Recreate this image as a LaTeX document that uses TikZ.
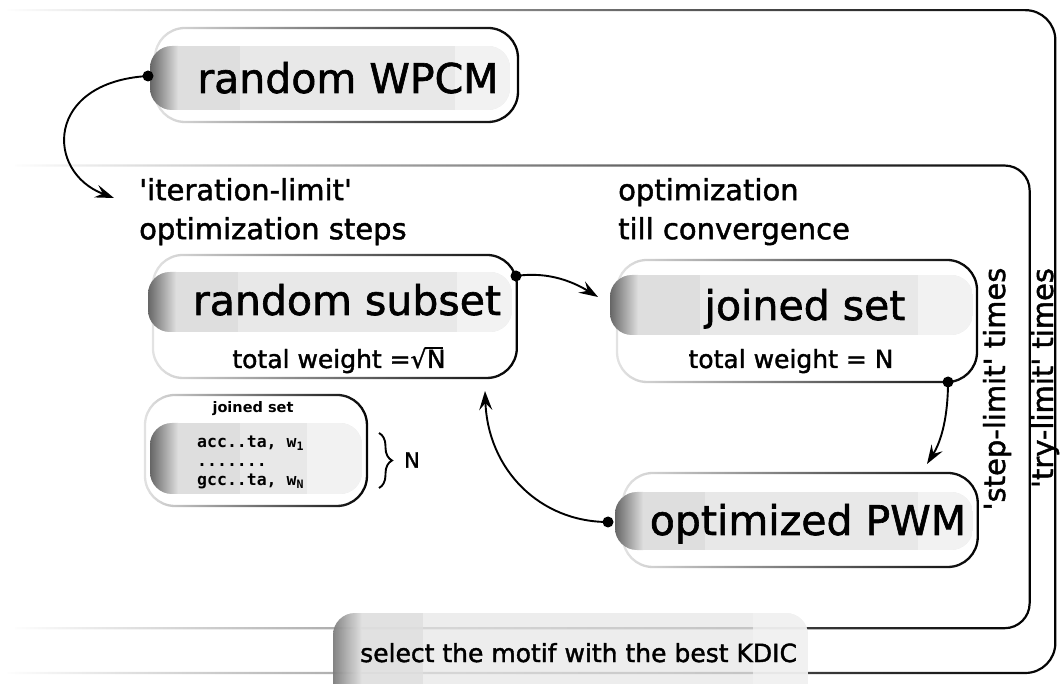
\documentclass[tikz,border=0pt]{standalone}
\usepackage{fontspec}
\setmainfont{DejaVu Sans}[FakeBold=1.5, Ligatures=TeXOff]
\newfontfamily\monofnt{DejaVu Sans Mono}
\newfontfamily\lblfnt{DejaVu Sans}
\usetikzlibrary{arrows.meta,fadings,decorations.pathreplacing}
\tikzfading[name=boxfade, left color=transparent!90, right color=transparent!0]
\tikzfading[name=framefade, left color=transparent!100, middle color=transparent!40, right color=transparent!0]
\newcommand{\mmbar}[4]{%
  \begin{scope}
    \clip[rounded corners=22pt] (#1,#2) rectangle (#3,#4);
    \fill[black!9] (#1,#2) rectangle (#3,#4);
    \fill[black!13] ({#1+20},#2) rectangle ({#1+90},#4);
    \shade[left color=black!60, right color=black!13] (#1,#2) rectangle ({#1+28},#4);
    \fill[black!5] ({#3-55},#2) rectangle (#3,#4);
  \end{scope}}
\newcommand{\mmbox}[4]{%
  \draw[boxline] ({#1-3},{#2-3}) ({#3+3},{#4+3}) (#1,#2) rectangle (#3,#4);}
\newcommand{\radN}{√\kern-1.2pt\rlap{\rule[19pt]{17.5pt}{1.8pt}}\kern1.5pt N}
\tikzset{
  boxline/.style={line width=2.3pt, black, rounded corners=30pt, path fading=boxfade},
  frameline/.style={line width=2.2pt, black, path fading=framefade},
  conn/.style={line width=1.9pt, -{Stealth[length=19pt,width=13pt,inset=7pt]}},
  dotc/.style={circle, fill=black, inner sep=0pt, minimum size=11pt},
  big/.style={font=\fontsize{41}{49}\selectfont, inner sep=0pt, anchor=base},
  mid/.style={font=\fontsize{29}{39}\selectfont, inner sep=0pt, align=left, anchor=north west},
  small/.style={font=\fontsize{25}{30}\selectfont, inner sep=0pt, anchor=base},
}
\begin{document}
\begin{tikzpicture}[x=1pt,y=-1pt]
\useasboundingbox (0,0) rectangle (1061,684);
% frames
\draw[frameline, rounded corners=30pt] (3,5) (1061,680) (8,10) -- (1057,10) -- (1057,673) -- (8,673);
\draw[frameline, rounded corners=25pt] (10,160) (1034,633) (15,165) -- (1030,165) -- (1030,628) -- (15,628);
% random WPCM
\mmbox{155}{28}{518}{122}
\mmbar{150}{46}{510}{110}
\node[big] (wpcm) at (348,93) {random WPCM};
% random subset
\mmbox{153}{255}{517}{378}
\mmbar{148}{272}{512}{332}
\node[big] (subset) at (347,315) {random subset};
\node[small] (subw) at (339,368) {total weight =\radN};
% joined set
\mmbox{617}{260}{977}{382}
\mmbar{610}{275}{973}{335}
\node[big] (joined) at (805,320) {joined set};
\node[small] (joinw) at (791,368) {total weight = N};
% optimized PWM
\mmbox{623}{473}{978}{567}
\mmbar{615}{492}{973}{550}
\node[big] (pwm) at (808,535) {optimized PWM};
% labels
\node[mid] (itlabel) at (139,178) {'iteration-limit'\\optimization steps};
\node[mid] (optlabel) at (618,178) {optimization\\till convergence};
% small joined set box
\mmbox{145}{395}{367}{506}
\mmbar{150}{423}{362}{494}
\node[font=\lblfnt\bfseries\fontsize{14.5}{16}\selectfont, inner sep=0pt] (jslabel) at (253,409) {joined set};
\node[font=\monofnt\bfseries\fontsize{16.5}{19}\selectfont, inner sep=0pt, align=left, anchor=north west] (seqs) at (197,436)
  {acc..ta, w\textsubscript{1}\\.......\\gcc..ta, w\textsubscript{N}};
\draw[decorate, decoration={brace, amplitude=13pt}, line width=1.9pt] (379,433) -- (379,488);
\node[font=\fontsize{21}{24}\selectfont, inner sep=0pt] (brN) at (412,460) {N};
% rotated labels
\node[font=\fontsize{29}{34}\selectfont, inner sep=0pt, rotate=90] (steptxt) at (997,389) {'step-limit' times};
\node[font=\fontsize{29}{34}\selectfont, inner sep=0pt, rotate=90] (trytxt) at (1045,378) {'try-limit' times};
% select box
\begin{scope}[opacity=0.78]
\mmbar{333}{613}{808}{705}
\end{scope}
\node[small, anchor=base west] (select) at (360,662) {select the motif with the best KDIC};
% connectors
\node[dotc] (d1) at (148,76) {};
\node[dotc] (d2) at (516,276) {};
\node[dotc] (d3) at (948,382) {};
\node[dotc] (d4) at (608,522) {};
\coordinate (a1) at (114,198);
\coordinate (a2) at (598,297);
\coordinate (a3) at (927,464);
\coordinate (a4) at (485,391);
\draw[conn] (d1.center) .. controls (45,82) and (45,172) .. (a1);
\draw[conn] (d2.center) .. controls (550,271) and (575,283) .. (a2);
\draw[conn] (d3.center) .. controls (948,415) and (942,440) .. (a3);
\draw[conn] (d4.center) .. controls (540,522) and (488,470) .. (a4);
\end{tikzpicture}
\end{document}
